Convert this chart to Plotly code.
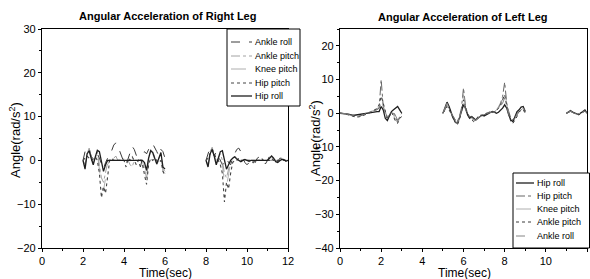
import plotly.graph_objects as go

# ---------------- Right leg (left panel) ----------------
t_r_a = [2.0 + i * 0.1 for i in range(41)]   # 2.0 .. 6.0
t_r_b = [8.0 + i * 0.1 for i in range(41)]   # 8.0 .. 12.0

r_hip_roll_a = [0, -2.0, 1.5, 2.2, 0.5, -1.0, 0.8, 2.3, 2.0, -0.5, -2.5, -1.0, 0, 0, 0, 0, 0, 0, 0, 0,
                0, 0, 0, 0, 0, 0, 0, 0, 0, 0, -0.5, -2.3, 0.5, 2.2, 1.8, 0.2, -0.8, 0.5, 1.8, -1.5, -2.0]
r_hip_roll_b = [0, -1.5, 1.5, 2.5, 1.0, -1.0, 0.5, 2.0, 2.2, 0, -2.0, -1.0, 0, 0.5, 0.8, 0.3, 0, -0.3, 0, 0.2,
                0, -0.2, 0, 0, 0, 0, 0, 0, 0, 0, 0, 0.5, 1.0, 0.5, -0.3, -0.5, 0, 0.3, 0.2, -0.2, 0]
r_ankle_roll_a = [0, 2.0, 3.0, 2.5, 1.0, 0.2, 1.0, 1.5, 0.5, -1.0, -2.0, -0.5, 0.5, 1.0, 2.5, 3.5, 4.0, 3.5, 2.0, 0.5,
                  -0.5, -1.0, 0.5, 2.0, 3.2, 2.5, 1.0, -0.5, -1.5, 0.5, 2.0, 1.5, 2.5, 3.5, 3.8, 3.0, 2.0, 1.0, 2.5, 2.0, 0.5]
r_ankle_roll_b = [0, 1.5, 3.0, 2.5, 1.0, 2.0, 1.0, 0, -1.0, -0.5, 0.5, -0.5, -1.0, 0.5, 1.5, 2.5, 2.8, 2.0, 0.5, -0.5,
                  -1.0, -0.5, 0.5, 0, -0.5, 0.5, 0.8, 0.5, -0.3, -0.8, 0, 1.0, 1.2, 0.5, 0, -0.3, 0.5, 0.5, 0, -0.5, 0]
r_hip_pitch_a = [0, 0.5, 1.0, 0.5, 0, 0.3, 0.8, 0, -3.0, -8.5, -6.0, -7.5, -3.0, 0, 0.5, 0, 0, 0, 0, 0.3,
                 0, -1.5, 0.5, 0, 0.8, 0, -1.0, 0, 0.5, -1.0, -3.5, -5.5, -1.0, 0.5, 0, 0.5, 0, -0.5, 0, -2.5, -3.5]
r_hip_pitch_b = [0, 0.5, 1.5, 2.5, 1.5, 0.5, 0, -1.0, -3.0, -9.5, -5.0, -6.5, -3.0, -0.5, 0, 0, 0.5, 0, 0, 0,
                 0, 0, 0, -0.5, 0, 0, 0, 0.5, 0, 0, 0, 0, 0.5, 0, 0, 0, 0, 0, 0, 0, 0]
r_ankle_pitch_a = [0, -1.0, 1.5, 2.8, 1.0, -0.5, 0.5, 2.0, -1.0, -4.0, -5.0, -3.0, -0.5, 0, 0, 0.5, 1.0, 0, 0, 0,
                   0.5, 0, 0, -1.0, -1.5, 0, 0, 0, 0, 0, -2.0, -4.0, 0.5, 2.5, 2.0, 0.5, -0.5, 0.5, 1.5, -2.0, -2.5]
r_ankle_pitch_b = [0, -1.0, 2.0, 3.0, 1.5, 0, 0.5, 1.5, 0, -3.0, -4.0, -2.0, 0, 0.5, 1.0, 0.5, 0, 0, 0, 0,
                   0, 0, 0, 0, 0, 0, 0, 0, 0, 0, 0, 0, 0, 0, 0, 0, 0, 0, 0, 0, 0]
r_knee_pitch_a = [0, -1.5, 2.0, 3.0, 0.8, -0.8, 0.5, 1.5, -2.0, -6.0, -7.0, -4.0, -1.0, 0, 0, 0, 0, 0, 0, 0,
                  0, 0, 0, 0, 0, 0, 0, 0, 0, 0, -2.5, -4.5, 0, 2.0, 1.5, 0, -1.0, 0, 1.5, -2.5, -3.0]
r_knee_pitch_b = [0, -1.2, 2.2, 2.8, 1.2, -0.5, 0.3, 1.8, -1.0, -5.0, -6.0, -3.0, -0.5, 0.3, 0, 0, 0, 0, 0, 0,
                  0, 0, 0, 0, 0, 0, 0, 0, 0, 0, 0, 0, 0, 0, 0, 0, 0, 0, 0, 0, 0]

# ---------------- Left leg (right panel) ----------------
t_l_a = [0.0 + i * 0.1 for i in range(31)]   # 0 .. 3
t_l_b = [5.0 + i * 0.1 for i in range(41)]   # 5 .. 9
t_l_c = [11.0 + i * 0.1 for i in range(11)]  # 11 .. 12

l_hip_roll_a = [0, 0, -0.1, -0.2, -0.3, -0.5, -0.6, -0.6, -0.5, -0.4, -0.3, -0.2, 0, 0.2, 0.3, 0.4, 0.5, 0.6, 0.5, 0.5,
                2.0, 1.0, -1.5, -2.2, -1.0, 0.5, 1.0, 1.5, 2.0, 1.0, 0]
l_hip_roll_b = [0, 2.0, 3.3, 2.0, 0, -1.5, -2.5, -3.0, -1.5, 0.5, 2.5, 1.5, -0.5, -1.5, -1.0, -1.5, -2.0, -1.5, -1.0, -0.5,
                -0.8, -0.5, 0, 0.3, 0.5, 0.3, 0, 0.3, 0.8, 1.5, 2.5, 1.5, -0.5, -2.0, -2.5, -1.0, 0.5, 1.0, 1.8, 2.0, 0.5]
l_hip_roll_c = [0, 0.5, 0.8, 0.3, 0, -0.2, -0.3, 0, 0.5, 1.0, 0]
l_hip_pitch_a = [0, 0, 0, -0.2, -0.4, -0.6, -0.8, -0.9, -1.0, -0.9, -0.8, -0.6, -0.3, 0, 0.3, 0.5, 0.8, 1.0, 1.2, 1.5,
                 10.0, 2.0, -1.0, -1.5, -0.5, 0.5, 0, -1.5, -2.5, -1.0, 0]
l_hip_pitch_b = [0, 1.0, 2.5, 1.5, 0, -1.0, -2.0, -2.5, -1.0, 1.5, 7.5, 2.0, 0, -1.0, -1.0, -1.5, -1.8, -1.5, -1.0, -0.5,
                 -0.5, 0, 0.2, 0.5, 0.5, 0.5, 0.8, 1.5, 3.0, 5.0, 9.2, 3.0, 0.5, -1.5, -2.0, -1.0, 0, 0.5, 1.0, 1.5, 0.5]
l_hip_pitch_c = [0, 0.3, 0.5, 0.3, 0, -0.2, -0.2, 0, 0.3, 0.8, 0]
l_knee_pitch_a = [0, 0, 0, -0.2, -0.4, -0.6, -0.8, -1.0, -1.0, -1.0, -0.9, -0.7, -0.4, -0.1, 0.2, 0.5, 0.8, 1.0, 1.3, 2.0,
                  6.0, 2.5, 0, -1.5, -1.0, 0, -0.5, -2.0, -2.8, -1.5, 0]
l_knee_pitch_b = [0, 1.5, 3.0, 1.5, -0.5, -1.5, -2.5, -3.2, -1.5, 1.0, 5.5, 2.0, -0.5, -1.5, -1.5, -2.0, -2.0, -1.5, -1.0, -0.5,
                  -0.3, 0, 0.3, 0.5, 0.3, 0.5, 1.0, 2.0, 3.0, 4.0, 7.0, 2.5, 0, -2.0, -2.5, -1.5, -0.5, 0.5, 1.0, 1.5, 0.3]
l_knee_pitch_c = [0, 0.4, 0.6, 0.2, 0, -0.3, -0.2, 0, 0.4, 0.9, 0]
l_ankle_pitch_a = [0, 0, -0.1, -0.3, -0.5, -0.8, -1.0, -1.1, -1.2, -1.1, -1.0, -0.8, -0.5, -0.3, 0, 0.3, 0.6, 1.0, 1.5, 2.5,
                   5.0, 3.0, 0.5, -1.5, -1.0, 0.5, -1.0, -2.5, -3.0, -1.5, -1.0]
l_ankle_pitch_b = [0, 1.0, 2.0, 1.0, -0.5, -1.5, -2.8, -3.5, -2.0, 0.5, 4.0, 1.5, -0.5, -1.5, -2.0, -2.5, -2.0, -1.0, -0.5, -0.8,
                   -0.5, -0.3, 0, 0.3, 0.2, 0.5, 0.8, 1.5, 2.5, 4.0, 5.5, 2.0, -0.5, -2.5, -3.0, -2.0, -1.0, 0.5, 0.8, 1.0, 0]
l_ankle_pitch_c = [0, 0.2, 0.5, 0.3, 0, -0.3, -0.5, -0.2, 0.3, 0.7, 0]
l_ankle_roll_a = [0, 0, -0.1, -0.2, -0.4, -0.6, -0.8, -1.0, -1.0, -0.9, -0.7, -0.5, -0.3, 0, 0.2, 0.4, 0.6, 0.8, 1.0, 1.5,
                  3.0, 1.5, 0, -1.0, -0.5, 0.5, 0.5, -1.0, -2.0, -1.0, 0]
l_ankle_roll_b = [0, 1.2, 2.5, 1.2, 0, -1.2, -2.0, -2.8, -1.2, 0.5, 3.5, 1.0, -0.5, -1.2, -1.5, -2.0, -2.2, -1.5, -0.8, -0.5,
                  -0.5, -0.2, 0, 0.2, 0.4, 0.3, 0.6, 1.2, 2.0, 3.0, 4.5, 1.5, -0.5, -2.0, -2.5, -1.5, -0.5, 0.5, 1.0, 1.2, 0.2]
l_ankle_roll_c = [0, 0.3, 0.6, 0.2, 0, -0.2, -0.4, -0.1, 0.4, 0.6, 0]

x_ticks = [0, 2, 4, 6, 8, 10, 12]
y_ticks_right_leg = [-20, -10, 0, 10, 20, 30]
y_ticks_left_leg = [-40, -30, -20, -10, 0, 10, 20]


def join(ts, vs):
    x, y = [], []
    for i, (tt, vv) in enumerate(zip(ts, vs)):
        if i:
            x.append(None)
            y.append(None)
        x.extend(tt)
        y.extend(vv)
    return x, y


FONT = "Liberation Sans, Arial, sans-serif"
W, H = 590, 279
fig = go.Figure()

# Right leg (left panel), legend order: Ankle roll, Ankle pitch, Knee pitch, Hip pitch, Hip roll
right_series = [
    ("Ankle roll", [r_ankle_roll_a, r_ankle_roll_b], "dash", "#3a3a3a", 1.0),
    ("Ankle pitch", [r_ankle_pitch_a, r_ankle_pitch_b], "dashdot", "#8a8a8a", 0.8),
    ("Knee pitch", [r_knee_pitch_a, r_knee_pitch_b], "longdash", "#9a9a9a", 0.8),
    ("Hip pitch", [r_hip_pitch_a, r_hip_pitch_b], "dot", "#444444", 1.1),
    ("Hip roll", [r_hip_roll_a, r_hip_roll_b], "solid", "#1e1e1e", 1.3),
]
for name, vals, dash, col, w in right_series:
    x, y = join([t_r_a, t_r_b], vals)
    fig.add_trace(go.Scatter(x=x, y=y, mode="lines", name=name, xaxis="x", yaxis="y",
                             line=dict(color=col, width=w, dash=dash), showlegend=False))

# Left leg (right panel), legend order: Hip roll, Hip pitch, Knee pitch, Ankle pitch, Ankle roll
left_series = [
    ("Hip roll", [l_hip_roll_a, l_hip_roll_b, l_hip_roll_c], "solid", "#1e1e1e", 1.3),
    ("Hip pitch", [l_hip_pitch_a, l_hip_pitch_b, l_hip_pitch_c], "dashdot", "#555555", 0.9),
    ("Knee pitch", [l_knee_pitch_a, l_knee_pitch_b, l_knee_pitch_c], "longdash", "#9a9a9a", 0.8),
    ("Ankle pitch", [l_ankle_pitch_a, l_ankle_pitch_b, l_ankle_pitch_c], "dot", "#3a3a3a", 1.0),
    ("Ankle roll", [l_ankle_roll_a, l_ankle_roll_b, l_ankle_roll_c], "dash", "#777777", 0.9),
]
for name, vals, dash, col, w in left_series:
    x, y = join([t_l_a, t_l_b, t_l_c], vals)
    fig.add_trace(go.Scatter(x=x, y=y, mode="lines", name=name, xaxis="x2", yaxis="y2",
                             line=dict(color=col, width=w, dash=dash), showlegend=False))

axis_common = dict(showline=True, linecolor="black", linewidth=1.2, mirror=True, automargin=False,
                   ticks="outside", ticklen=3, tickcolor="black", showgrid=False, zeroline=False,
                   tickfont=dict(family=FONT, size=11, color="black"))
minor = dict(ticks="outside", ticklen=2, tickcolor="black")


def px(x):
    return x / W


def py(y):
    return 1 - y / H


annotations = [
    dict(text="<b>Angular Acceleration of Right Leg</b>", x=px(167), y=py(16)),
    dict(text="<b>Angular Acceleration of Left Leg</b>", x=px(463), y=py(17)),
    dict(text="Time(sec)", x=px(165), y=py(272.5), font=dict(family=FONT, size=12, color="black")),
    dict(text="Time(sec)", x=px(464), y=py(272.5), font=dict(family=FONT, size=12, color="black")),
    dict(text="Angle(rad/s<sup>2</sup>)", x=px(15), y=py(140), textangle=-90,
         font=dict(family=FONT, size=13, color="black")),
    dict(text="Angle(rad/s<sup>2</sup>)", x=px(315), y=py(138), textangle=-90,
         font=dict(family=FONT, size=13, color="black")),
]
for a in annotations:
    a.setdefault("font", dict(family=FONT, size=11, color="black"))
    a.update(xref="paper", yref="paper", showarrow=False, xanchor="center", yanchor="middle")

shapes = []


def add_legend(x0, y0, x1, y1, entries, ys, sx0, sx1, tx):
    shapes.append(dict(type="rect", xref="paper", yref="paper", x0=px(x0), y0=py(y1), x1=px(x1), y1=py(y0),
                       line=dict(color="black", width=1), fillcolor="white", layer="above"))
    for (name, _, dash, col, w), yy in zip(entries, ys):
        shapes.append(dict(type="line", xref="paper", yref="paper", x0=px(sx0), x1=px(sx1), y0=py(yy), y1=py(yy),
                           line=dict(color=col, width=w, dash=dash), layer="above"))
        annotations.append(dict(text=name, x=px(tx), y=py(yy), xref="paper", yref="paper", showarrow=False,
                                xanchor="left", yanchor="middle", font=dict(family=FONT, size=9, color="black")))


add_legend(227, 29, 300, 106, right_series, [42, 56, 69, 83, 96], 231, 252, 253)
add_legend(513, 173, 589.5, 248, left_series, [183, 196, 209, 222, 236], 516, 534, 535)

fig.update_layout(
    width=W, height=H,
    margin=dict(l=0, r=0, t=0, b=0),
    paper_bgcolor="white", plot_bgcolor="white",
    font=dict(family=FONT, color="black"),
    showlegend=False,
    xaxis=dict(domain=[px(42), px(288)], range=[0, 12], tickvals=x_ticks, anchor="y",
               minor=dict(dtick=1, **minor), **axis_common),
    yaxis=dict(domain=[py(248), py(29)], range=[-20, 30], tickvals=y_ticks_right_leg, anchor="x",
               minor=dict(dtick=5, **minor), **axis_common),
    xaxis2=dict(domain=[px(340), px(587)], range=[0, 12], tickvals=x_ticks, anchor="y2",
                minor=dict(dtick=1, **minor), **axis_common),
    yaxis2=dict(domain=[py(248), py(29)], range=[-40, 25], tickvals=y_ticks_left_leg, anchor="x2",
                minor=dict(dtick=5, **minor), **axis_common),
    annotations=annotations,
    shapes=shapes,
)

fig.write_html("out.html", config={"displayModeBar": False},
               post_script="document.body.style.margin='0';document.body.style.overflow='hidden';")
